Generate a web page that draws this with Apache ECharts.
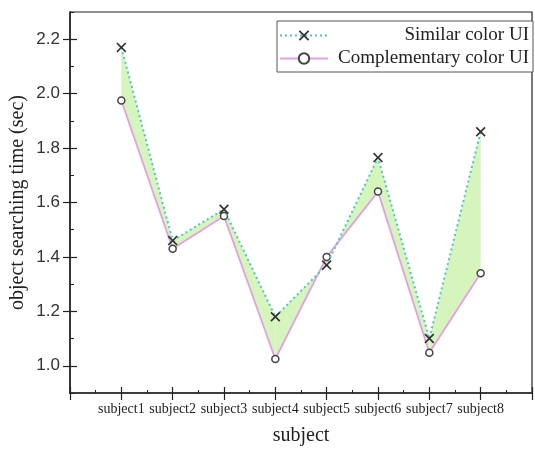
<!DOCTYPE html>
<html>
<head>
<meta charset="utf-8">
<script src="https://cdn.jsdelivr.net/npm/echarts@6/dist/echarts.min.js"></script>
<style>html,body{margin:0;padding:0;background:#fff}#c{width:535px;height:452px}</style>
</head>
<body>
<div id="c"></div>
<script>
const categories = ['subject1','subject2','subject3','subject4','subject5','subject6','subject7','subject8'];
const similarUI = [2.17, 1.46, 1.575, 1.18, 1.37, 1.765, 1.10, 1.86];
const complementaryUI = [1.975, 1.43, 1.55, 1.025, 1.40, 1.64, 1.048, 1.34];
const yMin = 0.9, yMax = 2.3, yLabelMin = 1.0, yLabelMax = 2.2;

const gridLeft = 70, gridTop = 12, gridW = 471, gridH = 381;
const pxPerUnit = gridH / (yMax - yMin);

const simPts = similarUI.map((v, i) => [i + 1, v]);
const compPts = complementaryUI.map((v, i) => [i + 1, v]);
// one band segment between consecutive subjects: [x1, sim1, comp1, x2, sim2, comp2]
const bandSegs = similarUI.slice(0, -1).map((v, i) => [i + 1, v, complementaryUI[i], i + 2, similarUI[i + 1], complementaryUI[i + 1]]);

const xPath = 'path://M0,1.2 L1.2,0 L5,3.8 L8.8,0 L10,1.2 L6.2,5 L10,8.8 L8.8,10 L5,6.2 L1.2,10 L0,8.8 L3.8,5 Z';
const serif = '"Liberation Serif","DejaVu Serif",serif';
const sans = '"Liberation Sans",Arial,sans-serif';

const chart = echarts.init(document.getElementById('c'));
chart.setOption({
  animation: false,
  backgroundColor: '#fff',
  grid: [
    {left: gridLeft, top: gridTop, width: gridW, height: gridH, show: true, borderColor: '#222', borderWidth: 1.2, backgroundColor: 'transparent'},
    {left: gridLeft, top: gridTop + (yMax - yLabelMax) * pxPerUnit, width: gridW, height: (yLabelMax - yLabelMin) * pxPerUnit, show: false}
  ],
  legend: {
    data: ['Similar color UI', 'Complementary color UI'],
    orient: 'vertical',
    left: 277, top: 21,
    padding: [5, 4, 4, 2],
    itemGap: 4,
    itemWidth: 48, itemHeight: 13,
    borderColor: '#555', borderWidth: 1,
    backgroundColor: '#fff',
    formatter: n => '{a|' + n + '}',
    textStyle: {
      rich: {a: {width: 196, align: 'right', fontFamily: serif, fontSize: 19, color: '#222'}}
    }
  },
  xAxis: [
    {gridIndex: 0, type: 'value', min: 0, max: 9, interval: 1, position: 'bottom',
     name: 'subject', nameLocation: 'middle', nameGap: 33,
     nameTextStyle: {fontFamily: serif, fontSize: 20, color: '#222'},
     axisLine: {show: true, lineStyle: {color: '#222', width: 1.5}},
     axisTick: {show: true, inside: true, length: 6, lineStyle: {color: '#222', width: 1.2}},
     minorTick: {show: true, splitNumber: 2, length: 3, lineStyle: {color: '#222'}},
     splitLine: {show: false},
     axisLabel: {margin: 9, fontFamily: serif, fontSize: 14, color: '#222',
       formatter: v => (v >= 1 && v <= categories.length) ? categories[v - 1] : ''}},
    {gridIndex: 0, type: 'value', min: 0, max: 9, interval: 1, position: 'bottom',
     axisLine: {show: false},
     axisTick: {show: true, inside: false, length: 7, lineStyle: {color: '#222', width: 1.2}},
     splitLine: {show: false}, axisLabel: {show: false}},
    {gridIndex: 1, type: 'value', min: 0, max: 9, show: false}
  ],
  yAxis: [
    {gridIndex: 0, type: 'value', min: yMin, max: yMax, interval: 0.1, position: 'left',
     name: 'object searching time (sec)', nameLocation: 'middle', nameGap: 42,
     nameTextStyle: {fontFamily: serif, fontSize: 20, color: '#222'},
     axisLine: {show: true, lineStyle: {color: '#222', width: 1.5}},
     axisTick: {show: true, inside: true, length: 4, lineStyle: {color: '#222'}},
     splitLine: {show: false}, axisLabel: {show: false}},
    {gridIndex: 1, type: 'value', min: yLabelMin, max: yLabelMax, interval: 0.2, position: 'left',
     axisLine: {show: false},
     axisTick: {show: true, inside: false, length: 7, lineStyle: {color: '#222', width: 1.2}},
     splitLine: {show: false},
     axisLabel: {margin: 10, fontFamily: sans, fontSize: 17, color: '#333', formatter: v => v.toFixed(1)}},
    {gridIndex: 1, type: 'value', min: yLabelMin, max: yLabelMax, interval: 0.2, position: 'left',
     axisLine: {show: false},
     axisTick: {show: true, inside: true, length: 7, lineStyle: {color: '#222', width: 1.2}},
     splitLine: {show: false}, axisLabel: {show: false}}
  ],
  series: [
    {name: 'band', type: 'custom', xAxisIndex: 0, yAxisIndex: 0, data: bandSegs, silent: true, z: 1,
     encode: {x: [0, 3], y: [1, 2, 4, 5]},
     renderItem: function (params, api) {
       const p1 = api.coord([api.value(0), api.value(1)]);
       const p2 = api.coord([api.value(3), api.value(4)]);
       const p3 = api.coord([api.value(3), api.value(5)]);
       const p4 = api.coord([api.value(0), api.value(2)]);
       return {type: 'polygon', shape: {points: [p1, p2, p3, p4]}, style: {fill: '#d6f5bd', stroke: null}};
     }},
    {name: 'Complementary color UI', type: 'line', xAxisIndex: 0, yAxisIndex: 0, data: compPts, z: 3,
     symbol: 'circle', symbolSize: 7, showAllSymbol: true,
     lineStyle: {color: '#e4a0e4', width: 1.8, type: 'solid'},
     itemStyle: {color: '#fff', borderColor: '#444', borderWidth: 1.5}},
    {name: 'Similar color UI', type: 'line', xAxisIndex: 0, yAxisIndex: 0, data: simPts, z: 4,
     symbol: xPath, symbolSize: 10, showAllSymbol: true,
     lineStyle: {color: '#4ec6c6', width: 2, type: [2, 3]},
     itemStyle: {color: '#333', borderWidth: 0}}
  ]
});
</script>
</body>
</html>
